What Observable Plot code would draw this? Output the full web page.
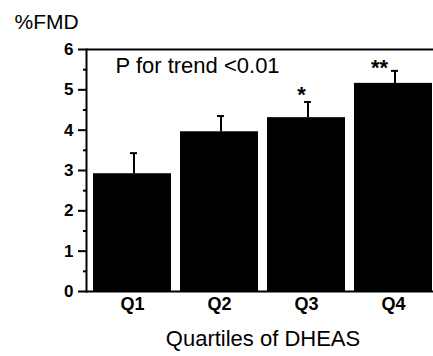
<!DOCTYPE html>
<html>
<head>
<meta charset="utf-8">
<script src="https://cdn.jsdelivr.net/npm/d3@7"></script>
<script src="https://cdn.jsdelivr.net/npm/@observablehq/plot@0.6"></script>
<style>
  html, body { margin: 0; padding: 0; background: #fff; }
  svg { font-family: "Liberation Sans", Arial, sans-serif; }
</style>
</head>
<body>
<div id="chart"></div>
<script>
const quartiles = ["Q1", "Q2", "Q3", "Q4"];
const meanFMD = [2.92, 3.96, 4.31, 5.16];
const upperSE = [3.43, 4.35, 4.70, 5.47];
const significance = ["", "", "*", "**"];
const majorTicks = [0, 1, 2, 3, 4, 5, 6];
const minorTicks = [0.5, 1.5, 2.5, 3.5, 4.5, 5.5];

const data = quartiles.map((q, i) => ({q, mean: meanFMD[i], upper: upperSE[i], sig: significance[i]}));
const single = data.filter(d => d.sig === "*");
const double = data.filter(d => d.sig === "**");

const font = "Liberation Sans, Arial, sans-serif";

const chart = Plot.plot({
  width: 433,
  height: 356,
  marginLeft: 86,
  marginRight: 0,
  marginTop: 49,
  marginBottom: 65,
  style: {fontFamily: font, color: "#000", background: "#fff"},
  x: {type: "band", domain: quartiles, range: [86, 439], paddingInner: 0.1, paddingOuter: 0.06, label: null},
  y: {domain: [0, 6], label: null},
  marks: [
    Plot.barY(data, {x: "q", y: "mean", fill: "#000"}),
    Plot.ruleX(data, {x: "q", y1: "mean", y2: "upper", stroke: "#000", strokeWidth: 2, dx: 1.5}),
    Plot.tickY(data, {x: "q", y: "upper", stroke: "#000", strokeWidth: 2, insetLeft: 37, insetRight: 34}),
    Plot.text(single, {x: "q", y: d => d.upper + 0.185, text: "sig", dx: -5, fontSize: 22, fontWeight: "bold", fill: "#000"}),
    Plot.text(double, {x: "q", y: d => d.upper + 0.08, text: "sig", dx: -14, fontSize: 22, fontWeight: "bold", fill: "#000"}),
    Plot.ruleY([6], {stroke: "#000", strokeWidth: 2}),
    Plot.ruleY([0], {stroke: "#000", strokeWidth: 2}),
    Plot.frame({anchor: "left", stroke: "#000", strokeWidth: 2}),
    Plot.axisY(majorTicks, {tickSize: 8, tickPadding: 5, fontSize: 17, fontWeight: "bold", strokeWidth: 2, tickFormat: d => String(d), label: null}),
    Plot.axisY(minorTicks, {tickSize: 3, strokeWidth: 2, tickFormat: () => "", label: null}),
    Plot.axisX({tickSize: 0, tickPadding: 6, fontSize: 18, fontWeight: "bold", label: null}),
    Plot.text(["Quartiles of DHEAS"], {frameAnchor: "bottom", dy: 47, dx: 3, lineAnchor: "middle", fontSize: 22, fill: "#000"}),
    Plot.text(["%FMD"], {frameAnchor: "top-left", textAnchor: "start", dx: -72, dy: -27, lineAnchor: "middle", fontSize: 21, fill: "#000"}),
    Plot.text(["P for trend <0.01"], {frameAnchor: "top-left", textAnchor: "start", dx: 29, dy: 16, lineAnchor: "middle", fontSize: 22, fill: "#000"})
  ]
});
document.getElementById("chart").appendChild(chart);
</script>
</body>
</html>
